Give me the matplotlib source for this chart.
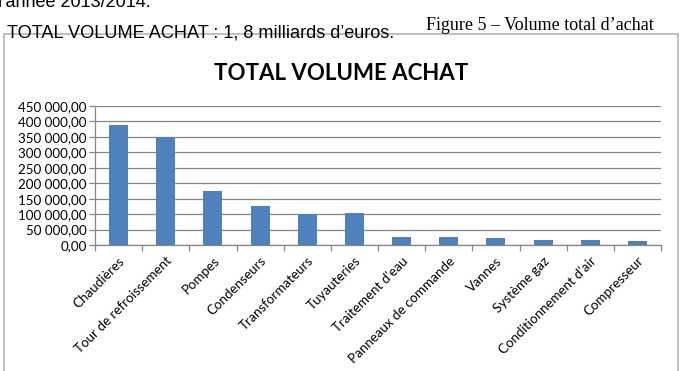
# -*- coding: utf-8 -*-
import numpy as np
import matplotlib
matplotlib.use('Agg')
import matplotlib.pyplot as plt
from matplotlib.patches import Rectangle

categories = ['Chaudières', 'Tour de refroissement', 'Pompes', 'Condenseurs',
              'Transformateurs', 'Tuyauteries', "Traitement d'eau",
              'Panneaux de commande', 'Vannes', 'Système gaz',
              "Conditionnement d'air", 'Compresseur']
volumes = [388000, 350000, 175000, 126000, 100000, 104000,
           26000, 27000, 23000, 17500, 15000, 12000]
yticks = [0, 50000, 100000, 150000, 200000, 250000, 300000, 350000, 400000, 450000]
ytick_labels = ['0,00', '50 000,00', '100 000,00', '150 000,00', '200 000,00',
                '250 000,00', '300 000,00', '350 000,00', '400 000,00', '450 000,00']

W, H = 686, 371
fig = plt.figure(figsize=(W/100, H/100), dpi=100)

def fx(px):
    return px/W

def fy(py):
    return 1 - py/H

# text above the chart
fig.text(fx(-2), fy(7), "l'année 2013/2014.", family='Liberation Sans',
         fontsize=13, va='baseline', ha='left')
fig.text(fx(7), fy(38), "TOTAL VOLUME ACHAT : 1, 8 milliards d’euros.",
         family='Liberation Sans', fontsize=13.1, va='baseline', ha='left')
fig.text(fx(426), fy(30), "Figure 5 – Volume total d’achat",
         family='Liberation Serif', fontsize=13, va='baseline', ha='left')

# chart border
fig.patches.append(Rectangle((fx(4), fy(380)), fx(674), 337/H + 9/H,
                             transform=fig.transFigure, fill=False,
                             edgecolor='#b4b4b4', lw=1.2))

fig.text(fx(341), fy(80), 'TOTAL VOLUME ACHAT', family='Lato',
         fontweight='bold', fontsize=16, ha='center', va='baseline')

ax = fig.add_axes([fx(95), fy(245), fx(661) - fx(95), (245 - 106)/H])
x = np.arange(len(categories))
ax.bar(x, volumes, width=0.4, color='#4f81bd', zorder=3)
ax.set_xlim(-0.5, len(categories) - 0.5)
ax.set_ylim(0, 450000)
ax.set_yticks(yticks)
ax.set_yticklabels(ytick_labels, family='Lato', fontsize=9.6)
ax.yaxis.grid(True, color='#878787', lw=0.9, zorder=0)
ax.set_xticks(np.arange(len(categories) + 1) - 0.5, minor=False)
ax.set_xticklabels([])
ax.set_xticks(x, minor=True)
ax.set_xticklabels(categories, minor=True, rotation=45, ha='right',
                   rotation_mode='anchor', family='Lato', fontsize=9.6)
ax.tick_params(axis='x', which='major', length=4, color='#878787', width=0.9)
ax.tick_params(axis='x', which='minor', length=0, pad=7)
ax.tick_params(axis='y', length=4, color='#878787', width=0.9, pad=2)
for s in ['top', 'right']:
    ax.spines[s].set_visible(False)
for s in ['left', 'bottom']:
    ax.spines[s].set_color('#878787')
    ax.spines[s].set_linewidth(0.9)

fig.savefig('out.png', dpi=100)
